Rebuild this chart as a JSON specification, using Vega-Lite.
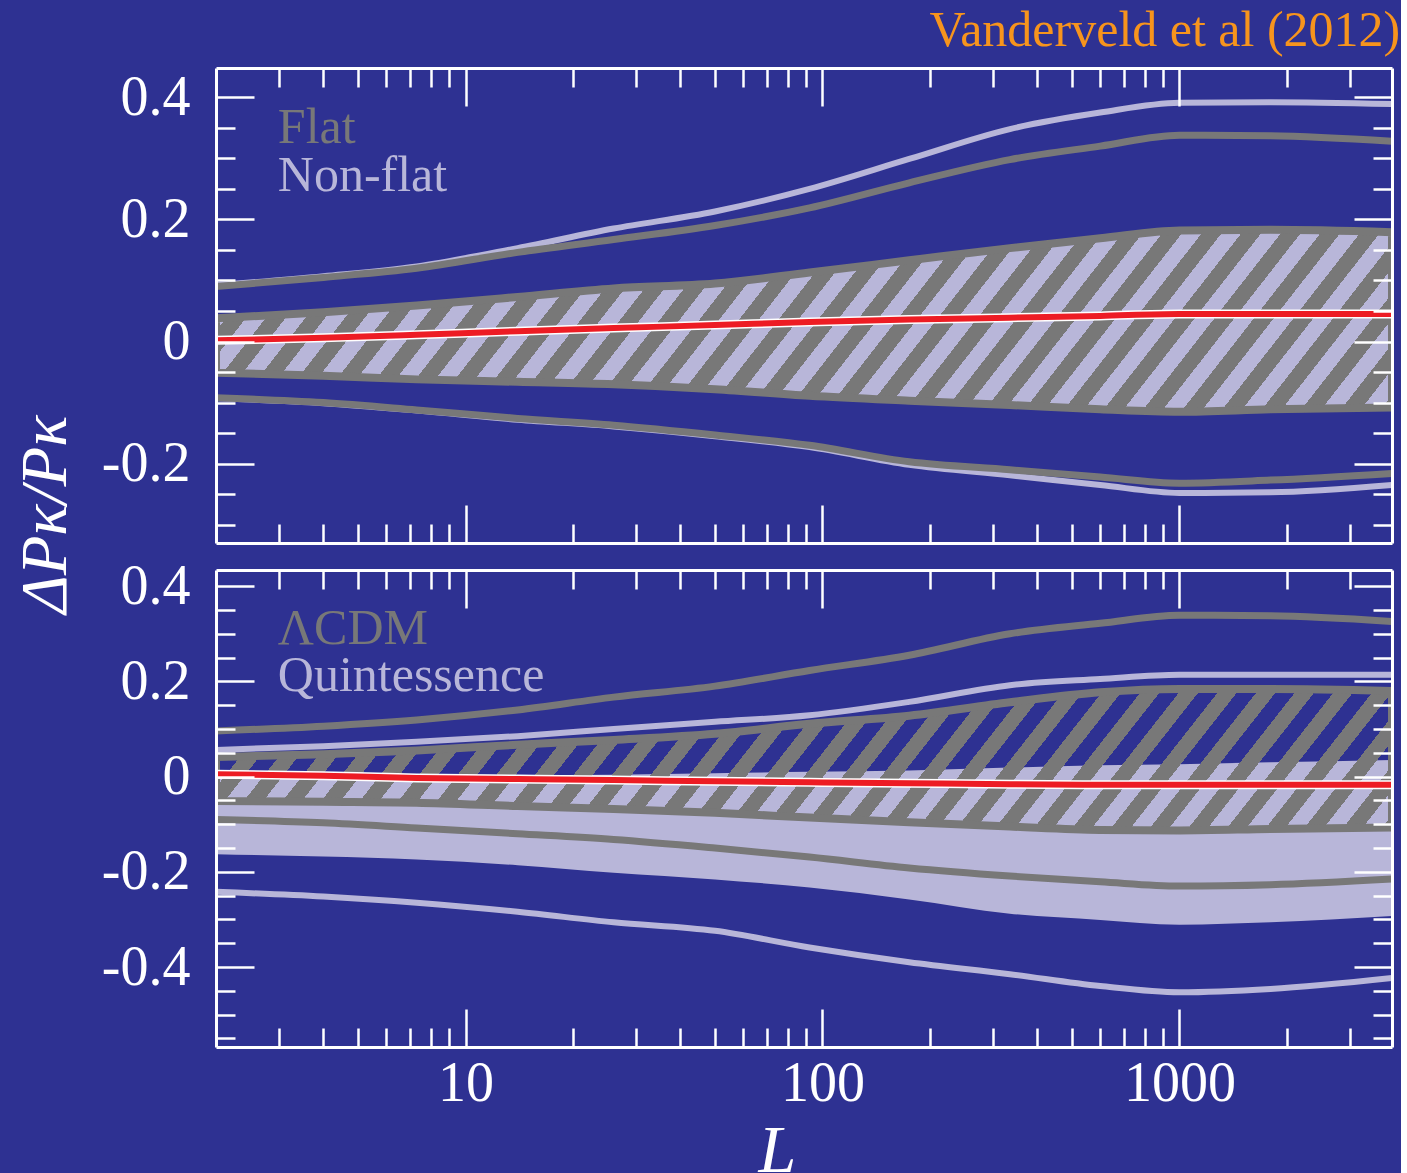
{
  "$schema": "https://vega.github.io/schema/vega-lite/v6.json",
  "background": "#2E3192",
  "padding": {"left": 13, "top": 5, "right": 0, "bottom": 0},
  "title": {"text": "Vanderveld et al (2012)", "anchor": "end", "color": "#F7941D", "font": "Liberation Serif", "fontSize": 50, "fontWeight": "normal", "dx": 7, "offset": -29, "baseline": "alphabetic"},
  "datasets": {
    "top": [
      {"L":2,"c":0.002,"g2h":0.090,"g2l":-0.092,"v2h":0.092,"v2l":-0.093,"gh":0.038,"gl":-0.051,"vh":0.042,"vl":-0.055},
      {"L":4,"c":0.006,"g2h":0.105,"g2l":-0.100,"v2h":0.107,"v2l":-0.101,"gh":0.048,"gl":-0.056,"vh":0.052,"vl":-0.060},
      {"L":7.3,"c":0.011,"g2h":0.120,"g2l":-0.112,"v2h":0.123,"v2l":-0.113,"gh":0.059,"gl":-0.062,"vh":0.063,"vl":-0.066},
      {"L":14,"c":0.017,"g2h":0.146,"g2l":-0.126,"v2h":0.153,"v2l":-0.128,"gh":0.073,"gl":-0.066,"vh":0.077,"vl":-0.070},
      {"L":26,"c":0.022,"g2h":0.167,"g2l":-0.137,"v2h":0.185,"v2l":-0.139,"gh":0.087,"gl":-0.070,"vh":0.091,"vl":-0.074},
      {"L":50,"c":0.027,"g2h":0.190,"g2l":-0.153,"v2h":0.213,"v2l":-0.155,"gh":0.095,"gl":-0.078,"vh":0.099,"vl":-0.082},
      {"L":92,"c":0.032,"g2h":0.219,"g2l":-0.170,"v2h":0.250,"v2l":-0.173,"gh":0.113,"gl":-0.089,"vh":0.117,"vl":-0.093},
      {"L":175,"c":0.036,"g2h":0.260,"g2l":-0.197,"v2h":0.299,"v2l":-0.202,"gh":0.133,"gl":-0.097,"vh":0.137,"vl":-0.101},
      {"L":335,"c":0.039,"g2h":0.298,"g2l":-0.210,"v2h":0.348,"v2l":-0.219,"gh":0.153,"gl":-0.104,"vh":0.157,"vl":-0.108},
      {"L":600,"c":0.042,"g2h":0.320,"g2l":-0.222,"v2h":0.375,"v2l":-0.235,"gh":0.169,"gl":-0.111,"vh":0.173,"vl":-0.115},
      {"L":1000,"c":0.045,"g2h":0.338,"g2l":-0.232,"v2h":0.391,"v2l":-0.248,"gh":0.182,"gl":-0.115,"vh":0.186,"vl":-0.119},
      {"L":1800,"c":0.045,"g2h":0.337,"g2l":-0.227,"v2h":0.392,"v2l":-0.247,"gh":0.183,"gl":-0.111,"vh":0.187,"vl":-0.115},
      {"L":3940,"c":0.045,"g2h":0.328,"g2l":-0.216,"v2h":0.389,"v2l":-0.235,"gh":0.179,"gl":-0.108,"vh":0.183,"vl":-0.112}
    ],
    "bot": [
      {"L":2,"c":0.005,"g2h":0.096,"g2l":-0.090,"v2h":0.056,"v2l":-0.242,"gh":0.041,"gl":-0.051,"vh":0.000,"vl":-0.163},
      {"L":4,"c":0.002,"g2h":0.106,"g2l":-0.097,"v2h":0.064,"v2l":-0.252,"gh":0.047,"gl":-0.053,"vh":0.001,"vl":-0.168},
      {"L":7.3,"c":-0.003,"g2h":0.119,"g2l":-0.108,"v2h":0.073,"v2l":-0.265,"gh":0.055,"gl":-0.055,"vh":0.002,"vl":-0.174},
      {"L":14,"c":-0.005,"g2h":0.140,"g2l":-0.120,"v2h":0.085,"v2l":-0.284,"gh":0.067,"gl":-0.062,"vh":0.003,"vl":-0.186},
      {"L":26,"c":-0.007,"g2h":0.167,"g2l":-0.132,"v2h":0.100,"v2l":-0.306,"gh":0.077,"gl":-0.068,"vh":0.004,"vl":-0.202},
      {"L":50,"c":-0.010,"g2h":0.190,"g2l":-0.150,"v2h":0.115,"v2l":-0.324,"gh":0.090,"gl":-0.076,"vh":0.007,"vl":-0.216},
      {"L":92,"c":-0.012,"g2h":0.223,"g2l":-0.169,"v2h":0.129,"v2l":-0.359,"gh":0.111,"gl":-0.086,"vh":0.010,"vl":-0.233},
      {"L":175,"c":-0.014,"g2h":0.255,"g2l":-0.192,"v2h":0.157,"v2l":-0.390,"gh":0.128,"gl":-0.096,"vh":0.013,"vl":-0.258},
      {"L":335,"c":-0.016,"g2h":0.300,"g2l":-0.209,"v2h":0.192,"v2l":-0.415,"gh":0.156,"gl":-0.105,"vh":0.019,"vl":-0.288},
      {"L":600,"c":-0.017,"g2h":0.322,"g2l":-0.221,"v2h":0.205,"v2l":-0.440,"gh":0.177,"gl":-0.112,"vh":0.024,"vl":-0.301},
      {"L":1000,"c":-0.017,"g2h":0.339,"g2l":-0.230,"v2h":0.214,"v2l":-0.453,"gh":0.184,"gl":-0.113,"vh":0.026,"vl":-0.311},
      {"L":1800,"c":-0.017,"g2h":0.338,"g2l":-0.227,"v2h":0.214,"v2l":-0.446,"gh":0.184,"gl":-0.110,"vh":0.030,"vl":-0.306},
      {"L":3940,"c":-0.017,"g2h":0.326,"g2l":-0.215,"v2h":0.214,"v2l":-0.423,"gh":0.180,"gl":-0.107,"vh":0.035,"vl":-0.293}
    ]
  },
  "spacing": 27,
  "bounds": "flush",
  "vconcat": [
    {
      "width": 1176, "height": 475,
      "data": {"name": "top"},
      "resolve": {"axis": {"x": "independent", "y": "independent"}},
      "layer": [
        {
          "mark": {"type": "area", "fill": "#B8B6D9", "interpolate": "monotone", "clip": true},
          "encoding": {
            "x": {"field": "L", "type": "quantitative", "scale": {"type": "log", "domain": [2, 3940], "nice": false},
                  "axis": {"orient": "bottom", "values": [10, 100, 1000], "tickSize": -38, "labels": false, "title": null, "zindex": 1}},
            "y": {"field": "vl", "type": "quantitative", "scale": {"domain": [-0.33, 0.448], "zero": false, "nice": false},
                  "axis": {"orient": "left", "values": [-0.2, 0, 0.2, 0.4], "tickSize": -38, "labelPadding": 64,
                           "labelExpr": "datum.value == 0 ? '0' : (datum.value < 0 ? '-' : '') + format(abs(datum.value), '.1f')",
                           "title": "ΔPκ/Pκ", "titleFontSize": 65, "titleFontStyle": "italic", "titleAngle": 270,
                           "titleBaseline": "alphabetic", "titleAlign": "center", "titleX": -151, "titleY": 446, "zindex": 1}},
            "y2": {"field": "vh"}
          }
        },
        {
          "mark": {"type": "area", "interpolate": "monotone", "clip": true, "stroke": "#787878", "strokeWidth": 8, "strokeJoin": "round",
                   "fill": {"gradient": "linear", "x1": 0, "y1": 0, "x2": 1.1046, "y2": 0.1334, "stops": [
{"offset":0,"color":"#787878"},
{"offset":0.015,"color":"#787878"},{"offset":0.015,"color":"rgba(120,120,120,0)"},{"offset":0.03,"color":"rgba(120,120,120,0)"},{"offset":0.03,"color":"#787878"},
{"offset":0.045,"color":"#787878"},{"offset":0.045,"color":"rgba(120,120,120,0)"},{"offset":0.06,"color":"rgba(120,120,120,0)"},{"offset":0.06,"color":"#787878"},
{"offset":0.075,"color":"#787878"},{"offset":0.075,"color":"rgba(120,120,120,0)"},{"offset":0.09,"color":"rgba(120,120,120,0)"},{"offset":0.09,"color":"#787878"},
{"offset":0.105,"color":"#787878"},{"offset":0.105,"color":"rgba(120,120,120,0)"},{"offset":0.12,"color":"rgba(120,120,120,0)"},{"offset":0.12,"color":"#787878"},
{"offset":0.135,"color":"#787878"},{"offset":0.135,"color":"rgba(120,120,120,0)"},{"offset":0.15,"color":"rgba(120,120,120,0)"},{"offset":0.15,"color":"#787878"},
{"offset":0.165,"color":"#787878"},{"offset":0.165,"color":"rgba(120,120,120,0)"},{"offset":0.18,"color":"rgba(120,120,120,0)"},{"offset":0.18,"color":"#787878"},
{"offset":0.195,"color":"#787878"},{"offset":0.195,"color":"rgba(120,120,120,0)"},{"offset":0.21,"color":"rgba(120,120,120,0)"},{"offset":0.21,"color":"#787878"},
{"offset":0.225,"color":"#787878"},{"offset":0.225,"color":"rgba(120,120,120,0)"},{"offset":0.24,"color":"rgba(120,120,120,0)"},{"offset":0.24,"color":"#787878"},
{"offset":0.255,"color":"#787878"},{"offset":0.255,"color":"rgba(120,120,120,0)"},{"offset":0.27,"color":"rgba(120,120,120,0)"},{"offset":0.27,"color":"#787878"},
{"offset":0.285,"color":"#787878"},{"offset":0.285,"color":"rgba(120,120,120,0)"},{"offset":0.3,"color":"rgba(120,120,120,0)"},{"offset":0.3,"color":"#787878"},
{"offset":0.315,"color":"#787878"},{"offset":0.315,"color":"rgba(120,120,120,0)"},{"offset":0.33,"color":"rgba(120,120,120,0)"},{"offset":0.33,"color":"#787878"},
{"offset":0.345,"color":"#787878"},{"offset":0.345,"color":"rgba(120,120,120,0)"},{"offset":0.36,"color":"rgba(120,120,120,0)"},{"offset":0.36,"color":"#787878"},
{"offset":0.375,"color":"#787878"},{"offset":0.375,"color":"rgba(120,120,120,0)"},{"offset":0.39,"color":"rgba(120,120,120,0)"},{"offset":0.39,"color":"#787878"},
{"offset":0.405,"color":"#787878"},{"offset":0.405,"color":"rgba(120,120,120,0)"},{"offset":0.42,"color":"rgba(120,120,120,0)"},{"offset":0.42,"color":"#787878"},
{"offset":0.435,"color":"#787878"},{"offset":0.435,"color":"rgba(120,120,120,0)"},{"offset":0.45,"color":"rgba(120,120,120,0)"},{"offset":0.45,"color":"#787878"},
{"offset":0.465,"color":"#787878"},{"offset":0.465,"color":"rgba(120,120,120,0)"},{"offset":0.48,"color":"rgba(120,120,120,0)"},{"offset":0.48,"color":"#787878"},
{"offset":0.495,"color":"#787878"},{"offset":0.495,"color":"rgba(120,120,120,0)"},{"offset":0.51,"color":"rgba(120,120,120,0)"},{"offset":0.51,"color":"#787878"},
{"offset":0.525,"color":"#787878"},{"offset":0.525,"color":"rgba(120,120,120,0)"},{"offset":0.54,"color":"rgba(120,120,120,0)"},{"offset":0.54,"color":"#787878"},
{"offset":0.555,"color":"#787878"},{"offset":0.555,"color":"rgba(120,120,120,0)"},{"offset":0.57,"color":"rgba(120,120,120,0)"},{"offset":0.57,"color":"#787878"},
{"offset":0.585,"color":"#787878"},{"offset":0.585,"color":"rgba(120,120,120,0)"},{"offset":0.6,"color":"rgba(120,120,120,0)"},{"offset":0.6,"color":"#787878"},
{"offset":0.615,"color":"#787878"},{"offset":0.615,"color":"rgba(120,120,120,0)"},{"offset":0.63,"color":"rgba(120,120,120,0)"},{"offset":0.63,"color":"#787878"},
{"offset":0.645,"color":"#787878"},{"offset":0.645,"color":"rgba(120,120,120,0)"},{"offset":0.66,"color":"rgba(120,120,120,0)"},{"offset":0.66,"color":"#787878"},
{"offset":0.675,"color":"#787878"},{"offset":0.675,"color":"rgba(120,120,120,0)"},{"offset":0.69,"color":"rgba(120,120,120,0)"},{"offset":0.69,"color":"#787878"},
{"offset":0.705,"color":"#787878"},{"offset":0.705,"color":"rgba(120,120,120,0)"},{"offset":0.72,"color":"rgba(120,120,120,0)"},{"offset":0.72,"color":"#787878"},
{"offset":0.735,"color":"#787878"},{"offset":0.735,"color":"rgba(120,120,120,0)"},{"offset":0.75,"color":"rgba(120,120,120,0)"},{"offset":0.75,"color":"#787878"},
{"offset":0.765,"color":"#787878"},{"offset":0.765,"color":"rgba(120,120,120,0)"},{"offset":0.78,"color":"rgba(120,120,120,0)"},{"offset":0.78,"color":"#787878"},
{"offset":0.795,"color":"#787878"},{"offset":0.795,"color":"rgba(120,120,120,0)"},{"offset":0.81,"color":"rgba(120,120,120,0)"},{"offset":0.81,"color":"#787878"},
{"offset":0.825,"color":"#787878"},{"offset":0.825,"color":"rgba(120,120,120,0)"},{"offset":0.84,"color":"rgba(120,120,120,0)"},{"offset":0.84,"color":"#787878"},
{"offset":0.855,"color":"#787878"},{"offset":0.855,"color":"rgba(120,120,120,0)"},{"offset":0.87,"color":"rgba(120,120,120,0)"},{"offset":0.87,"color":"#787878"},
{"offset":0.885,"color":"#787878"},{"offset":0.885,"color":"rgba(120,120,120,0)"},{"offset":0.9,"color":"rgba(120,120,120,0)"},{"offset":0.9,"color":"#787878"},
{"offset":0.915,"color":"#787878"},{"offset":0.915,"color":"rgba(120,120,120,0)"},{"offset":0.93,"color":"rgba(120,120,120,0)"},{"offset":0.93,"color":"#787878"},
{"offset":0.945,"color":"#787878"},{"offset":0.945,"color":"rgba(120,120,120,0)"},{"offset":0.96,"color":"rgba(120,120,120,0)"},{"offset":0.96,"color":"#787878"},
{"offset":0.975,"color":"#787878"},{"offset":0.975,"color":"rgba(120,120,120,0)"},{"offset":0.99,"color":"rgba(120,120,120,0)"},{"offset":0.99,"color":"#787878"},
{"offset":1,"color":"#787878"}]}},
          "encoding": {
            "x": {"field": "L", "type": "quantitative", "scale": {"type": "log", "domain": [2, 3940], "nice": false},
                  "axis": {"orient": "bottom", "values": [3,4,5,6,7,8,9,20,30,40,50,60,70,80,90,200,300,400,500,600,700,800,900,2000,3000], "tickSize": -19, "labels": false, "domain": false, "title": null, "zindex": 1}},
            "y": {"field": "gl", "type": "quantitative", "scale": {"domain": [-0.33, 0.448], "zero": false, "nice": false},
                  "axis": {"orient": "left", "values": [-0.3,-0.25,-0.15,-0.1,-0.05,0.05,0.1,0.15,0.25,0.3,0.35], "tickSize": -19, "labels": false, "domain": false, "title": null, "zindex": 1}},
            "y2": {"field": "gh"}
          }
        },
        {
          "mark": {"type": "line", "stroke": "#B8B6D9", "strokeWidth": 6, "interpolate": "monotone", "clip": true},
          "encoding": {
            "x": {"field": "L", "type": "quantitative", "scale": {"type": "log", "domain": [2, 3940], "nice": false},
                  "axis": {"orient": "top", "values": [10, 100, 1000], "tickSize": -38, "labels": false, "title": null, "zindex": 1}},
            "y": {"field": "v2h", "type": "quantitative", "scale": {"domain": [-0.33, 0.448], "zero": false, "nice": false},
                  "axis": {"orient": "right", "values": [-0.2, 0, 0.2, 0.4], "tickSize": -38, "labels": false, "title": null, "zindex": 1}}
          }
        },
        {
          "mark": {"type": "line", "stroke": "#B8B6D9", "strokeWidth": 6, "interpolate": "monotone", "clip": true},
          "encoding": {
            "x": {"field": "L", "type": "quantitative", "scale": {"type": "log", "domain": [2, 3940], "nice": false},
                  "axis": {"orient": "top", "values": [3,4,5,6,7,8,9,20,30,40,50,60,70,80,90,200,300,400,500,600,700,800,900,2000,3000], "tickSize": -19, "labels": false, "domain": false, "title": null, "zindex": 1}},
            "y": {"field": "v2l", "type": "quantitative", "scale": {"domain": [-0.33, 0.448], "zero": false, "nice": false},
                  "axis": {"orient": "right", "values": [-0.3,-0.25,-0.15,-0.1,-0.05,0.05,0.1,0.15,0.25,0.3,0.35], "tickSize": -19, "labels": false, "domain": false, "title": null, "zindex": 1}}
          }
        },
        {
          "mark": {"type": "line", "stroke": "#787878", "strokeWidth": 7, "interpolate": "monotone", "clip": true},
          "encoding": {
            "x": {"field": "L", "type": "quantitative", "scale": {"type": "log", "domain": [2, 3940], "nice": false}, "axis": null},
            "y": {"field": "g2h", "type": "quantitative", "scale": {"domain": [-0.33, 0.448], "zero": false, "nice": false}, "axis": null}
          }
        },
        {
          "mark": {"type": "line", "stroke": "#787878", "strokeWidth": 7, "interpolate": "monotone", "clip": true},
          "encoding": {
            "x": {"field": "L", "type": "quantitative", "scale": {"type": "log", "domain": [2, 3940], "nice": false}, "axis": null},
            "y": {"field": "g2l", "type": "quantitative", "scale": {"domain": [-0.33, 0.448], "zero": false, "nice": false}, "axis": null}
          }
        },
        {
          "mark": {"type": "line", "stroke": "#FFFFFF", "strokeWidth": 9, "interpolate": "monotone", "clip": true},
          "encoding": {
            "x": {"field": "L", "type": "quantitative", "scale": {"type": "log", "domain": [2, 3940], "nice": false}, "axis": null},
            "y": {"field": "c", "type": "quantitative", "scale": {"domain": [-0.33, 0.448], "zero": false, "nice": false}, "axis": null}
          }
        },
        {
          "mark": {"type": "line", "stroke": "#ED1C24", "strokeWidth": 6, "interpolate": "monotone", "clip": true},
          "encoding": {
            "x": {"field": "L", "type": "quantitative", "scale": {"type": "log", "domain": [2, 3940], "nice": false}, "axis": null},
            "y": {"field": "c", "type": "quantitative", "scale": {"domain": [-0.33, 0.448], "zero": false, "nice": false}, "axis": null}
          }
        },
        {
          "data": {"values": [{"label": "Flat", "L": 2.98, "v": 0.3254}, {"label": "Non-flat", "L": 2.98, "v": 0.2467}]},
          "mark": {"type": "text", "align": "left", "baseline": "alphabetic", "font": "Liberation Serif", "fontSize": 50},
          "encoding": {
            "x": {"field": "L", "type": "quantitative", "scale": {"type": "log", "domain": [2, 3940], "nice": false}, "axis": null},
            "y": {"field": "v", "type": "quantitative", "scale": {"domain": [-0.33, 0.448], "zero": false, "nice": false}, "axis": null},
            "text": {"field": "label"},
            "color": {"field": "label", "type": "nominal", "scale": {"domain": ["Flat", "Non-flat", "ΛCDM", "Quintessence"], "range": ["#787878", "#B8B6D9", "#787878", "#B8B6D9"]}, "legend": null}
          }
        }
      ]
    },
    {
      "width": 1176, "height": 477,
      "data": {"name": "bot"},
      "resolve": {"axis": {"x": "independent", "y": "independent"}},
      "layer": [
        {
          "mark": {"type": "area", "fill": "#B8B6D9", "interpolate": "monotone", "clip": true},
          "encoding": {
            "x": {"field": "L", "type": "quantitative", "scale": {"type": "log", "domain": [2, 3940], "nice": false},
                  "axis": {"orient": "bottom", "values": [10, 100, 1000], "tickSize": -38, "labels": true, "format": "d", "labelPadding": 47,
                           "title": "L", "titleFontSize": 68, "titleFontStyle": "italic", "titleBaseline": "alphabetic", "titleAlign": "center", "titleAngle": 0, "titleX": 561, "titleY": 124, "zindex": 1}},
            "y": {"field": "vl", "type": "quantitative", "scale": {"domain": [-0.568, 0.434], "zero": false, "nice": false},
                  "axis": {"orient": "left", "values": [-0.4, -0.2, 0, 0.2, 0.4], "tickSize": -38, "labelPadding": 64,
                           "labelExpr": "datum.value == 0 ? '0' : (datum.value < 0 ? '-' : '') + format(abs(datum.value), '.1f')",
                           "title": null, "zindex": 1}},
            "y2": {"field": "vh"}
          }
        },
        {
          "mark": {"type": "area", "interpolate": "monotone", "clip": true, "stroke": "#787878", "strokeWidth": 8, "strokeJoin": "round",
                   "fill": {"gradient": "linear", "x1": 0, "y1": 0, "x2": 1.0853, "y2": 0.10248, "stops": [
{"offset":0,"color":"#787878"},
{"offset":0.015,"color":"#787878"},{"offset":0.015,"color":"rgba(120,120,120,0)"},{"offset":0.03,"color":"rgba(120,120,120,0)"},{"offset":0.03,"color":"#787878"},
{"offset":0.045,"color":"#787878"},{"offset":0.045,"color":"rgba(120,120,120,0)"},{"offset":0.06,"color":"rgba(120,120,120,0)"},{"offset":0.06,"color":"#787878"},
{"offset":0.075,"color":"#787878"},{"offset":0.075,"color":"rgba(120,120,120,0)"},{"offset":0.09,"color":"rgba(120,120,120,0)"},{"offset":0.09,"color":"#787878"},
{"offset":0.105,"color":"#787878"},{"offset":0.105,"color":"rgba(120,120,120,0)"},{"offset":0.12,"color":"rgba(120,120,120,0)"},{"offset":0.12,"color":"#787878"},
{"offset":0.135,"color":"#787878"},{"offset":0.135,"color":"rgba(120,120,120,0)"},{"offset":0.15,"color":"rgba(120,120,120,0)"},{"offset":0.15,"color":"#787878"},
{"offset":0.165,"color":"#787878"},{"offset":0.165,"color":"rgba(120,120,120,0)"},{"offset":0.18,"color":"rgba(120,120,120,0)"},{"offset":0.18,"color":"#787878"},
{"offset":0.195,"color":"#787878"},{"offset":0.195,"color":"rgba(120,120,120,0)"},{"offset":0.21,"color":"rgba(120,120,120,0)"},{"offset":0.21,"color":"#787878"},
{"offset":0.225,"color":"#787878"},{"offset":0.225,"color":"rgba(120,120,120,0)"},{"offset":0.24,"color":"rgba(120,120,120,0)"},{"offset":0.24,"color":"#787878"},
{"offset":0.255,"color":"#787878"},{"offset":0.255,"color":"rgba(120,120,120,0)"},{"offset":0.27,"color":"rgba(120,120,120,0)"},{"offset":0.27,"color":"#787878"},
{"offset":0.285,"color":"#787878"},{"offset":0.285,"color":"rgba(120,120,120,0)"},{"offset":0.3,"color":"rgba(120,120,120,0)"},{"offset":0.3,"color":"#787878"},
{"offset":0.315,"color":"#787878"},{"offset":0.315,"color":"rgba(120,120,120,0)"},{"offset":0.33,"color":"rgba(120,120,120,0)"},{"offset":0.33,"color":"#787878"},
{"offset":0.345,"color":"#787878"},{"offset":0.345,"color":"rgba(120,120,120,0)"},{"offset":0.36,"color":"rgba(120,120,120,0)"},{"offset":0.36,"color":"#787878"},
{"offset":0.375,"color":"#787878"},{"offset":0.375,"color":"rgba(120,120,120,0)"},{"offset":0.39,"color":"rgba(120,120,120,0)"},{"offset":0.39,"color":"#787878"},
{"offset":0.405,"color":"#787878"},{"offset":0.405,"color":"rgba(120,120,120,0)"},{"offset":0.42,"color":"rgba(120,120,120,0)"},{"offset":0.42,"color":"#787878"},
{"offset":0.435,"color":"#787878"},{"offset":0.435,"color":"rgba(120,120,120,0)"},{"offset":0.45,"color":"rgba(120,120,120,0)"},{"offset":0.45,"color":"#787878"},
{"offset":0.465,"color":"#787878"},{"offset":0.465,"color":"rgba(120,120,120,0)"},{"offset":0.48,"color":"rgba(120,120,120,0)"},{"offset":0.48,"color":"#787878"},
{"offset":0.495,"color":"#787878"},{"offset":0.495,"color":"rgba(120,120,120,0)"},{"offset":0.51,"color":"rgba(120,120,120,0)"},{"offset":0.51,"color":"#787878"},
{"offset":0.525,"color":"#787878"},{"offset":0.525,"color":"rgba(120,120,120,0)"},{"offset":0.54,"color":"rgba(120,120,120,0)"},{"offset":0.54,"color":"#787878"},
{"offset":0.555,"color":"#787878"},{"offset":0.555,"color":"rgba(120,120,120,0)"},{"offset":0.57,"color":"rgba(120,120,120,0)"},{"offset":0.57,"color":"#787878"},
{"offset":0.585,"color":"#787878"},{"offset":0.585,"color":"rgba(120,120,120,0)"},{"offset":0.6,"color":"rgba(120,120,120,0)"},{"offset":0.6,"color":"#787878"},
{"offset":0.615,"color":"#787878"},{"offset":0.615,"color":"rgba(120,120,120,0)"},{"offset":0.63,"color":"rgba(120,120,120,0)"},{"offset":0.63,"color":"#787878"},
{"offset":0.645,"color":"#787878"},{"offset":0.645,"color":"rgba(120,120,120,0)"},{"offset":0.66,"color":"rgba(120,120,120,0)"},{"offset":0.66,"color":"#787878"},
{"offset":0.675,"color":"#787878"},{"offset":0.675,"color":"rgba(120,120,120,0)"},{"offset":0.69,"color":"rgba(120,120,120,0)"},{"offset":0.69,"color":"#787878"},
{"offset":0.705,"color":"#787878"},{"offset":0.705,"color":"rgba(120,120,120,0)"},{"offset":0.72,"color":"rgba(120,120,120,0)"},{"offset":0.72,"color":"#787878"},
{"offset":0.735,"color":"#787878"},{"offset":0.735,"color":"rgba(120,120,120,0)"},{"offset":0.75,"color":"rgba(120,120,120,0)"},{"offset":0.75,"color":"#787878"},
{"offset":0.765,"color":"#787878"},{"offset":0.765,"color":"rgba(120,120,120,0)"},{"offset":0.78,"color":"rgba(120,120,120,0)"},{"offset":0.78,"color":"#787878"},
{"offset":0.795,"color":"#787878"},{"offset":0.795,"color":"rgba(120,120,120,0)"},{"offset":0.81,"color":"rgba(120,120,120,0)"},{"offset":0.81,"color":"#787878"},
{"offset":0.825,"color":"#787878"},{"offset":0.825,"color":"rgba(120,120,120,0)"},{"offset":0.84,"color":"rgba(120,120,120,0)"},{"offset":0.84,"color":"#787878"},
{"offset":0.855,"color":"#787878"},{"offset":0.855,"color":"rgba(120,120,120,0)"},{"offset":0.87,"color":"rgba(120,120,120,0)"},{"offset":0.87,"color":"#787878"},
{"offset":0.885,"color":"#787878"},{"offset":0.885,"color":"rgba(120,120,120,0)"},{"offset":0.9,"color":"rgba(120,120,120,0)"},{"offset":0.9,"color":"#787878"},
{"offset":0.915,"color":"#787878"},{"offset":0.915,"color":"rgba(120,120,120,0)"},{"offset":0.93,"color":"rgba(120,120,120,0)"},{"offset":0.93,"color":"#787878"},
{"offset":0.945,"color":"#787878"},{"offset":0.945,"color":"rgba(120,120,120,0)"},{"offset":0.96,"color":"rgba(120,120,120,0)"},{"offset":0.96,"color":"#787878"},
{"offset":0.975,"color":"#787878"},{"offset":0.975,"color":"rgba(120,120,120,0)"},{"offset":0.99,"color":"rgba(120,120,120,0)"},{"offset":0.99,"color":"#787878"},
{"offset":1,"color":"#787878"}]}},
          "encoding": {
            "x": {"field": "L", "type": "quantitative", "scale": {"type": "log", "domain": [2, 3940], "nice": false},
                  "axis": {"orient": "bottom", "values": [3,4,5,6,7,8,9,20,30,40,50,60,70,80,90,200,300,400,500,600,700,800,900,2000,3000], "tickSize": -19, "labels": false, "domain": false, "title": null, "zindex": 1}},
            "y": {"field": "gl", "type": "quantitative", "scale": {"domain": [-0.568, 0.434], "zero": false, "nice": false},
                  "axis": {"orient": "left", "values": [-0.55,-0.5,-0.45,-0.35,-0.3,-0.25,-0.15,-0.1,-0.05,0.05,0.1,0.15,0.25,0.3,0.35], "tickSize": -19, "labels": false, "domain": false, "title": null, "zindex": 1}},
            "y2": {"field": "gh"}
          }
        },
        {
          "mark": {"type": "line", "stroke": "#B8B6D9", "strokeWidth": 6, "interpolate": "monotone", "clip": true},
          "encoding": {
            "x": {"field": "L", "type": "quantitative", "scale": {"type": "log", "domain": [2, 3940], "nice": false},
                  "axis": {"orient": "top", "values": [10, 100, 1000], "tickSize": -38, "labels": false, "title": null, "zindex": 1}},
            "y": {"field": "v2h", "type": "quantitative", "scale": {"domain": [-0.568, 0.434], "zero": false, "nice": false},
                  "axis": {"orient": "right", "values": [-0.4, -0.2, 0, 0.2, 0.4], "tickSize": -38, "labels": false, "title": null, "zindex": 1}}
          }
        },
        {
          "mark": {"type": "line", "stroke": "#B8B6D9", "strokeWidth": 6, "interpolate": "monotone", "clip": true},
          "encoding": {
            "x": {"field": "L", "type": "quantitative", "scale": {"type": "log", "domain": [2, 3940], "nice": false},
                  "axis": {"orient": "top", "values": [3,4,5,6,7,8,9,20,30,40,50,60,70,80,90,200,300,400,500,600,700,800,900,2000,3000], "tickSize": -19, "labels": false, "domain": false, "title": null, "zindex": 1}},
            "y": {"field": "v2l", "type": "quantitative", "scale": {"domain": [-0.568, 0.434], "zero": false, "nice": false},
                  "axis": {"orient": "right", "values": [-0.55,-0.5,-0.45,-0.35,-0.3,-0.25,-0.15,-0.1,-0.05,0.05,0.1,0.15,0.25,0.3,0.35], "tickSize": -19, "labels": false, "domain": false, "title": null, "zindex": 1}}
          }
        },
        {
          "mark": {"type": "line", "stroke": "#787878", "strokeWidth": 7, "interpolate": "monotone", "clip": true},
          "encoding": {
            "x": {"field": "L", "type": "quantitative", "scale": {"type": "log", "domain": [2, 3940], "nice": false}, "axis": null},
            "y": {"field": "g2h", "type": "quantitative", "scale": {"domain": [-0.568, 0.434], "zero": false, "nice": false}, "axis": null}
          }
        },
        {
          "mark": {"type": "line", "stroke": "#787878", "strokeWidth": 7, "interpolate": "monotone", "clip": true},
          "encoding": {
            "x": {"field": "L", "type": "quantitative", "scale": {"type": "log", "domain": [2, 3940], "nice": false}, "axis": null},
            "y": {"field": "g2l", "type": "quantitative", "scale": {"domain": [-0.568, 0.434], "zero": false, "nice": false}, "axis": null}
          }
        },
        {
          "mark": {"type": "line", "stroke": "#FFFFFF", "strokeWidth": 9, "interpolate": "monotone", "clip": true},
          "encoding": {
            "x": {"field": "L", "type": "quantitative", "scale": {"type": "log", "domain": [2, 3940], "nice": false}, "axis": null},
            "y": {"field": "c", "type": "quantitative", "scale": {"domain": [-0.568, 0.434], "zero": false, "nice": false}, "axis": null}
          }
        },
        {
          "mark": {"type": "line", "stroke": "#ED1C24", "strokeWidth": 6, "interpolate": "monotone", "clip": true},
          "encoding": {
            "x": {"field": "L", "type": "quantitative", "scale": {"type": "log", "domain": [2, 3940], "nice": false}, "axis": null},
            "y": {"field": "c", "type": "quantitative", "scale": {"domain": [-0.568, 0.434], "zero": false, "nice": false}, "axis": null}
          }
        },
        {
          "data": {"values": [{"label": "ΛCDM", "L": 2.98, "v": 0.279}, {"label": "Quintessence", "L": 2.98, "v": 0.179}]},
          "mark": {"type": "text", "align": "left", "baseline": "alphabetic", "font": "Liberation Serif", "fontSize": 50},
          "encoding": {
            "x": {"field": "L", "type": "quantitative", "scale": {"type": "log", "domain": [2, 3940], "nice": false}, "axis": null},
            "y": {"field": "v", "type": "quantitative", "scale": {"domain": [-0.568, 0.434], "zero": false, "nice": false}, "axis": null},
            "text": {"field": "label"},
            "color": {"field": "label", "type": "nominal", "scale": {"domain": ["Flat", "Non-flat", "ΛCDM", "Quintessence"], "range": ["#787878", "#B8B6D9", "#787878", "#B8B6D9"]}, "legend": null}
          }
        }
      ]
    }
  ],
  "config": {
    "view": {"stroke": null},
    "axis": {"grid": false, "domainColor": "#FFFFFF", "tickColor": "#FFFFFF", "labelColor": "#FFFFFF", "titleColor": "#FFFFFF",
             "labelFont": "Liberation Serif", "titleFont": "Liberation Serif", "labelFontSize": 56, "labelFontWeight": "normal",
             "titleFontWeight": "normal", "tickWidth": 2.5, "domainWidth": 3, "labelFlush": false}
  }
}
